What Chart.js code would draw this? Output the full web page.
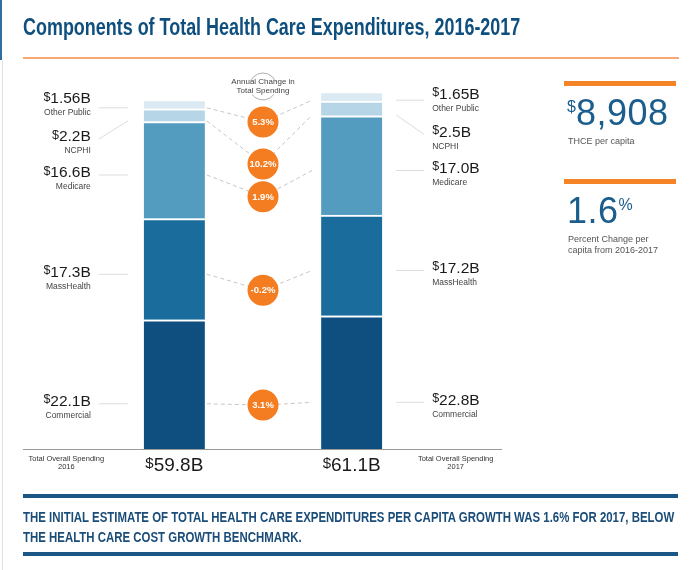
<!DOCTYPE html>
<html>
<head>
<meta charset="utf-8">
<script src="https://cdn.jsdelivr.net/npm/chart.js@4.4.0/dist/chart.umd.min.js"></script>
<style>
  body { margin: 0; width: 699px; height: 570px; overflow: hidden; background: #fff; position: relative;
         font-family: "Liberation Sans", Arial, sans-serif; }
  canvas { position: absolute; left: 0; top: 0; }
  .edge-top { position: absolute; left: 0; top: 0; width: 2px; height: 60px; background: #2d6fa3; }
  .edge { position: absolute; left: 2px; top: 60px; width: 1px; height: 510px; background: #e2e2e2; }
  .fit { position: absolute; left: 23px; white-space: nowrap; transform-origin: 0 0; }
  .title { top: 14px; font: bold 23px "Liberation Sans", Arial, sans-serif; color: #0f4f7e; }
  .title-rule { position: absolute; left: 23px; top: 57px; width: 656px; height: 2px; background: #f9a874; }
  .panel { position: absolute; left: 564px; width: 125px; }
  .bar { height: 5px; width: 112px; background: #f58426; }
  .big { color: #1b5d8d; font-size: 36px; line-height: 35px; margin-top: 9px; margin-left: 3px; white-space: nowrap; letter-spacing: 0.5px; }
  .big sup { font-size: 16px; vertical-align: 13px; line-height: 0; letter-spacing: 0; }
  .small { color: #555; font-size: 9px; line-height: 11px; margin-top: 6px; margin-left: 4px; }
  .rule { position: absolute; left: 23px; width: 655px; height: 4px; background: #1a5786; }
  .note { font: bold 14px "Liberation Sans", Arial, sans-serif; color: #1b4d79; line-height: 20px; }
</style>
</head>
<body>
<div class="edge-top"></div>
<div class="edge"></div>
<canvas id="chart" width="699" height="570"></canvas>
<div class="fit title" data-w="497">Components of Total Health Care Expenditures, 2016-2017</div>
<div class="title-rule"></div>

<div class="panel" style="top:81px">
  <div class="bar"></div>
  <div class="big" id="thce"></div>
  <div class="small">THCE per capita</div>
</div>
<div class="panel" style="top:179px">
  <div class="bar"></div>
  <div class="big" id="pct"></div>
  <div class="small">Percent Change per<br>capita from 2016-2017</div>
</div>

<div class="rule" style="top:494px"></div>
<div class="fit note" style="top:507px" data-w="651">THE INITIAL ESTIMATE OF TOTAL HEALTH CARE EXPENDITURES PER CAPITA GROWTH WAS 1.6% FOR 2017, BELOW</div>
<div class="fit note" style="top:527px" data-s="1">THE HEALTH CARE COST GROWTH BENCHMARK.</div>
<div class="rule" style="top:552px"></div>

<script>
const years = ['2016', '2017'];
const categories = ['Commercial', 'MassHealth', 'Medicare', 'NCPHI', 'Other Public'];
const spend2016 = [22.1, 17.3, 16.6, 2.2, 1.56];
const spend2017 = [22.8, 17.2, 17.0, 2.5, 1.65];
const annualChange = ['3.1%', '-0.2%', '1.9%', '10.2%', '5.3%'];
const totals = [59.8, 61.1];
const thcePerCapita = '8,908';
const pctPerCapita = '1.6';

const colors = ['#0e4f80', '#196c9b', '#549bc0', '#b6d6e7', '#dae9f2'];

document.getElementById('thce').innerHTML = '<sup>$</sup>' + thcePerCapita;
document.getElementById('pct').innerHTML = pctPerCapita + '<sup>%</sup>';

// condensed look: squeeze the bold headings to the reference widths
let noteScale = 1;
document.querySelectorAll('.fit').forEach(el => {
  if (el.dataset.w) {
    const s = el.dataset.w / el.offsetWidth;
    if (el.classList.contains('note')) noteScale = s;
    el.style.transform = 'scaleX(' + s + ')';
  } else {
    el.style.transform = 'scaleX(' + noteScale + ')';
  }
});

// where along each segment the label leader lines attach (0 = bottom)
const attach = [0.35, 0.45, 0.45, 0.05, 0.1];
// push each change bubble down from the leader midpoint so they don't collide
const bubbleDrop = [2, 18, 24, 46, 18];

function fmt(v) { return v.toFixed(v < 2 ? 2 : 1) + 'B'; }

function drawValue(ctx, text, x, y, align, big, small) {
  ctx.textBaseline = 'middle';
  ctx.fillStyle = '#1a1a1a';
  ctx.font = big + 'px "Liberation Sans", Arial, sans-serif';
  const w = ctx.measureText(text).width;
  ctx.font = small + 'px "Liberation Sans", Arial, sans-serif';
  const ds = ctx.measureText('$').width;
  let x0 = align === 'right' ? x - w - ds : (align === 'center' ? x - (w + ds) / 2 : x);
  ctx.textAlign = 'left';
  ctx.fillText('$', x0, y - big * 0.12);
  ctx.font = big + 'px "Liberation Sans", Arial, sans-serif';
  ctx.fillText(text, x0 + ds, y);
}

function spreadText(anchors) {
  const t = anchors.slice();
  t[3] = t[2] - 36;
  t[4] = t[3] - 38;
  return t;
}

const decor = {
  id: 'decor',
  afterDatasetsDraw(chart) {
    const ctx = chart.ctx;
    const ys = chart.scales.y;
    const midX = chart.scales.x.getPixelForValue(1);
    const base = ys.getPixelForValue(0);
    const L = categories.map((c, i) => chart.getDatasetMeta(i).data[0]);
    const R = categories.map((c, i) => chart.getDatasetMeta(i).data[2]);
    const aL = L.map((b, i) => b.base - attach[i] * (b.base - b.y));
    const aR = R.map((b, i) => b.base - attach[i] * (b.base - b.y));
    const tL = spreadText(aL), tR = spreadText(aR);
    const lEdge = L[0].x - L[0].width / 2, lRight = L[0].x + L[0].width / 2;
    const rEdge = R[0].x + R[0].width / 2, rLeft = R[0].x - R[0].width / 2;

    ctx.save();
    // leader lines to side labels
    ctx.strokeStyle = '#dcdcdc';
    ctx.lineWidth = 1;
    categories.forEach((c, i) => {
      ctx.beginPath();
      if (Math.abs(tL[i] - aL[i]) < 8) { ctx.moveTo(lEdge - 45, aL[i]); ctx.lineTo(lEdge - 16, aL[i]); }
      else { ctx.moveTo(lEdge - 45, tL[i]); ctx.lineTo(lEdge - 16, aL[i]); }
      if (Math.abs(tR[i] - aR[i]) < 8) { ctx.moveTo(rEdge + 14, aR[i]); ctx.lineTo(rEdge + 42, aR[i]); }
      else { ctx.moveTo(rEdge + 14, aR[i]); ctx.lineTo(rEdge + 42, tR[i]); }
      ctx.stroke();
    });

    // side labels
    categories.forEach((c, i) => {
      drawValue(ctx, fmt(spend2016[i]), lEdge - 53, tL[i] - 2, 'right', 15.5, 12.5);
      drawValue(ctx, fmt(spend2017[i]), rEdge + 50, tR[i] - 2, 'left', 15.5, 12.5);
      ctx.font = '8.5px "Liberation Sans", Arial, sans-serif';
      ctx.fillStyle = '#444';
      ctx.textAlign = 'right';
      ctx.fillText(c, lEdge - 53, tL[i] + 12);
      ctx.textAlign = 'left';
      ctx.fillText(c, rEdge + 50, tR[i] + 12);
    });

    // dashed connectors and change bubbles
    categories.forEach((c, i) => {
      const cy = (aL[i] + aR[i]) / 2 + bubbleDrop[i];
      ctx.setLineDash([4, 3]);
      ctx.strokeStyle = '#c6c6c6';
      ctx.beginPath();
      ctx.moveTo(lRight + 2, aL[i]);
      ctx.lineTo(midX, cy);
      ctx.lineTo(rLeft - 9, aR[i]);
      ctx.stroke();
      ctx.setLineDash([]);
      ctx.fillStyle = '#f47c21';
      ctx.beginPath();
      ctx.arc(midX, cy, 15.5, 0, Math.PI * 2);
      ctx.fill();
      ctx.fillStyle = '#fff';
      ctx.font = 'bold 9.5px "Liberation Sans", Arial, sans-serif';
      ctx.textAlign = 'center';
      ctx.textBaseline = 'middle';
      ctx.fillText(annualChange[i], midX, cy + 0.5);
    });

    // "Annual Change in Total Spending" heading
    const top = chart.chartArea.top;
    ctx.strokeStyle = '#999';
    ctx.lineWidth = 0.8;
    ctx.beginPath();
    ctx.arc(midX, top + 17.5, 13.5, Math.PI * 1.12, Math.PI * 1.88);
    ctx.stroke();
    ctx.beginPath();
    ctx.arc(midX, top + 17.5, 13.5, Math.PI * 0.2, Math.PI * 0.8);
    ctx.stroke();
    ctx.fillStyle = '#444';
    ctx.font = '8px "Liberation Sans", Arial, sans-serif';
    ctx.fillText('Annual Change in', midX, top + 13);
    ctx.fillText('Total Spending', midX, top + 22);

    // baseline
    ctx.strokeStyle = '#9a9a9a';
    ctx.lineWidth = 1;
    ctx.beginPath();
    ctx.moveTo(23, Math.round(base) + 0.5);
    ctx.lineTo(502, Math.round(base) + 0.5);
    ctx.stroke();

    // totals under bars
    drawValue(ctx, totals[0].toFixed(1) + 'B', L[0].x, base + 17, 'center', 19, 15);
    drawValue(ctx, totals[1].toFixed(1) + 'B', R[0].x, base + 17, 'center', 19, 15);
    ctx.fillStyle = '#333';
    ctx.font = '7.5px "Liberation Sans", Arial, sans-serif';
    ctx.textAlign = 'center';
    ctx.fillText('Total Overall Spending', L[0].x - 108, base + 10);
    ctx.fillText(years[0], L[0].x - 108, base + 18);
    ctx.fillText('Total Overall Spending', R[0].x + 104, base + 10);
    ctx.fillText(years[1], R[0].x + 104, base + 18);
    ctx.restore();
  }
};

new Chart(document.getElementById('chart'), {
  type: 'bar',
  data: {
    labels: [years[0], '', years[1]],
    datasets: categories.map((c, i) => ({
      label: c,
      data: [spend2016[i], null, spend2017[i]],
      backgroundColor: colors[i],
      borderColor: '#ffffff',
      borderWidth: { top: 2, left: 0, right: 0, bottom: 0 },
      borderSkipped: false,
      barThickness: 61
    }))
  },
  options: {
    responsive: false,
    animation: false,
    layout: { padding: { left: 130, right: 303, top: 69, bottom: 121 } },
    plugins: { legend: { display: false }, tooltip: { enabled: false } },
    scales: {
      x: { stacked: true, display: false },
      y: { stacked: true, display: false, min: 0, max: 65 }
    }
  },
  plugins: [decor]
});
</script>
</body>
</html>
